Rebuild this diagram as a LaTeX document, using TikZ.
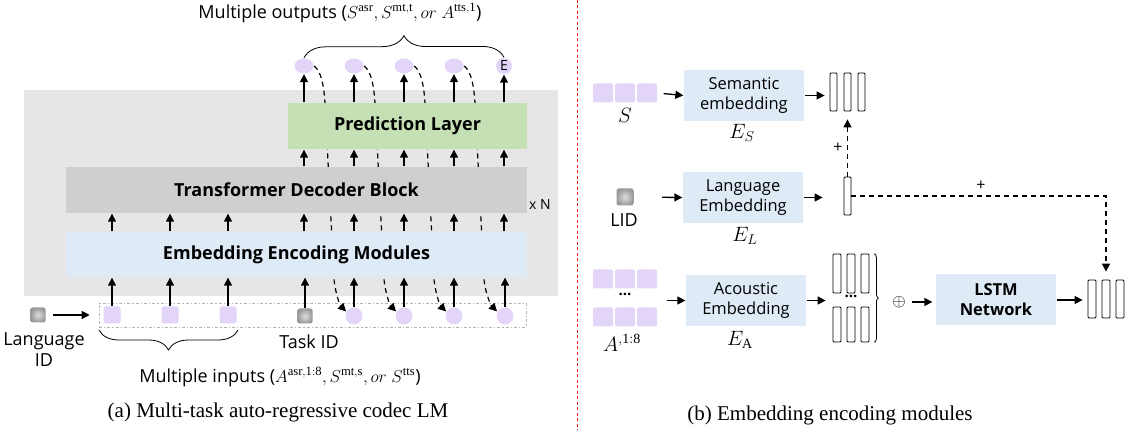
\documentclass[tikz,border=0pt]{standalone}
\usepackage{fontspec}
\setmainfont{Liberation Serif}
\newfontfamily\uifont{Open Sans}
\usetikzlibrary{arrows.meta,decorations.pathreplacing,shapes.geometric}
\tikzstyle{every path}=[line width=1.3pt]
\definecolor{bggray}{RGB}{230,230,230}
\definecolor{predgreen}{RGB}{197,224,180}
\definecolor{decgray}{RGB}{208,206,206}
\definecolor{embblue}{RGB}{222,235,247}
\definecolor{tokpurple}{RGB}{226,213,248}
\definecolor{divred}{RGB}{235,20,20}
\tikzstyle{block}=[inner sep=0pt, align=center, font=\uifont\bfseries\fontsize{18}{21}\selectfont]
\tikzstyle{module}=[fill=embblue, inner sep=0pt, align=center, minimum width=120pt, minimum height=51pt, font=\uifont\fontsize{16.5}{20}\selectfont]
\tikzstyle{token}=[fill=tokpurple, rounded corners=2pt, minimum width=20pt, minimum height=19pt, inner sep=0pt]
\tikzstyle{tokdot}=[fill=tokpurple, circle, minimum size=17pt, inner sep=0pt]
\tikzstyle{idbox}=[rounded corners=2pt, minimum size=15pt, inner sep=0pt, inner color=gray!25, outer color=gray!80]
\tikzstyle{vec}=[draw, line width=0.8pt, rounded corners=1pt, minimum width=7pt, minimum height=38pt, inner sep=0pt]
\tikzstyle{arr}=[-{Triangle[length=8pt,width=8pt]}]
\tikzstyle{fb}=[arr, line width=1.2pt, dash pattern=on 5pt off 4pt]
\tikzstyle{lbl}=[font=\uifont\fontsize{18}{21}\selectfont]
\tikzstyle{mathlbl}=[font=\fontsize{20}{22}\selectfont]
\tikzstyle{brc}=[decorate, line width=0.8pt]
\tikzstyle{caption}=[font=\fontsize{21}{24}\selectfont]

\begin{document}
\begin{tikzpicture}[x=1pt, y=-1pt]
    \useasboundingbox (0,0) rectangle (1129,435);

    % (a) multi-task codec LM
    \fill[bggray] (24,90) rectangle (558,296);

    \foreach \n/\x in {1/304,2/354,3/404,4/454}
        \node[tokdot, ellipse, minimum width=19pt, minimum height=15pt] (o\n) at (\x,66) {};
    \node[tokdot, minimum size=16pt, font=\uifont\fontsize{14}{14}\selectfont] (o5) at (504,66) {E};

    \node[draw=gray!60, dash dot, line width=0.6pt, minimum width=427pt, minimum height=24pt, inner sep=0pt] (inrow) at (312.5,315) {};
    \foreach \n/\x in {1/112,2/170,3/228}
        \node[token, minimum width=17pt, minimum height=17pt] (s\n) at (\x,315) {};
    \node[idbox] (task) at (305,316) {};
    \foreach \n/\x in {1/354,2/404,3/454,4/505}
        \node[tokdot] (i\n) at (\x,316) {};
    \node[idbox] (lang) at (38,315) {};
    \draw[arr, shorten <=7pt, shorten >=9pt] (lang) -- (inrow.west);

    \foreach \n in {1,...,4}
        \draw[fb] (o\n.east) .. controls +(7,5) and +(-1,-20) .. ++(11,40)
            -- ++(9,175) .. controls +(2,15) and +(-6,-6) .. (i\n.150);

    \node[block, fill=predgreen, minimum width=239pt, minimum height=46pt] (pred) at (407.5,126) {Prediction Layer};
    \node[block, fill=decgray, minimum width=461pt, minimum height=46pt] (dec) at (296.5,190) {Transformer Decoder Block};
    \node[block, fill=embblue, minimum width=461pt, minimum height=45pt] (emb) at (296.5,254.5) {Embedding Encoding Modules};

    \foreach \n in {1,...,5} {
        \draw[arr] (o\n |- pred.north) -- (o\n.south);
        \draw[arr] (o\n |- dec.north) -- (o\n |- pred.south);
    }
    \foreach \c in {s1,s2,s3,o1,o2,o3,o4,o5}
        \draw[arr] (\c |- emb.north) -- (\c |- dec.south);
    \foreach \c in {s1,s2,s3,task,i1,i2,i3,i4}
        \draw[arr] (\c.north) -- (\c |- emb.south);

    \draw[brc, decoration={brace, amplitude=22pt}] (o1.north) -- (o5.north);
    \node[lbl] (outlbl) at (340,13) {Multiple outputs ($S^{\mathrm{asr}}, S^{\mathrm{mt,t}}, or\ A^{\mathrm{tts,1}}$)};
    \coordinate (bl) at (99,330);
    \coordinate (br) at (238,330);
    \draw[brc, decoration={brace, mirror, amplitude=20pt}] (bl) -- (br);
    \node[lbl] (inlbl) at (280,377) {Multiple inputs ($A^{\mathrm{asr,1:8}}, S^{\mathrm{mt,s}}, or\ S^{\mathrm{tts}}$)};

    \node[lbl, align=center] (langlbl) at (44,350) {Language\\ID};
    \node[lbl] (tasklbl) at (309,342) {Task ID};
    \node[font=\uifont\fontsize{14}{14}\selectfont] (nlbl) at (540,205) {x N};
    \node[caption] (capa) at (278,412) {(a) Multi-task auto-regressive codec LM};

    \draw[divred, line width=1pt, dash pattern=on 3pt off 2.5pt] (577,0) -- (577,430);

    % (b) embedding encoding modules
    \foreach \n/\x in {1/603,2/625,3/647}
        \node[token] (st\n) at (\x,93) {};
    \node[mathlbl] (slbl) at (625,115) {$S$};
    \node[module] (sem) at (744,95.5) {Semantic\\embedding};
    \node[mathlbl] (eslbl) at (742,133) {$E_S$};
    \foreach \n/\x in {1/833.5,2/847.5,3/861.5}
        \node[vec] (sv\n) at (\x,92) {};
    \draw[arr, shorten <=6pt] (st3.east) -- (sem.west);
    \draw[arr, shorten >=5pt] (sem.east) -- (sem.east -| sv1.west);

    \node[idbox, minimum size=17pt] (lid) at (625,197) {};
    \node[lbl] (lidlbl) at (624,220) {LID};
    \node[module] (lemb) at (743,197.5) {Language\\Embedding};
    \node[mathlbl] (ellbl) at (745,236) {$E_L$};
    \node[vec] (lv) at (847.5,196) {};
    \draw[arr, shorten <=28pt] (lid.east) -- (lemb.west);
    \draw[arr, shorten >=21pt] (lemb.east) -- (lemb.east -| lv.west);

    \foreach \n/\x in {1/603,2/625,3/647} {
        \node[token] (at\n) at (\x,279) {};
        \node[token] (ab\n) at (\x,317) {};
    }
    \node[font=\uifont\bfseries\fontsize{15}{15}\selectfont] (adots) at (625,294) {...};
    \node[mathlbl] (albl) at (622,343) {$A^{,\mathrm{1:8}}$};
    \node[module] (aemb) at (746,300.5) {Acoustic\\Embedding};
    \node[mathlbl] (ealbl) at (740,340) {$E_{\mathrm{A}}$};
    \draw[arr, shorten <=9pt] (aemb.west -| at3.east) -- (aemb.west);

    \foreach \n/\x in {1/837,2/851,3/865} {
        \node[vec, minimum width=8pt, minimum height=39pt] (av\n) at (\x,273.5) {};
        \node[vec, minimum width=8pt, minimum height=35pt] (bv\n) at (\x,324.5) {};
    }
    \node[font=\uifont\bfseries\fontsize{15}{15}\selectfont] (vdots) at (851,296) {...};
    \draw[arr, shorten >=7pt] (aemb.east) -- (aemb.east -| av1.west);
    \draw[brc, decoration={brace, amplitude=4pt}] ([xshift=5pt]av3.north east) -- ([xshift=5pt]bv3.south east);
    \node[font=\fontsize{18}{18}\selectfont] (plus) at (899,302) {$\oplus$};
    \node[module, font=\uifont\bfseries\fontsize{16.5}{20}\selectfont] (lstm) at (996,300) {LSTM\\Network};
    \draw[arr, shorten <=2pt, shorten >=3pt] (plus.east) -- (plus.east -| lstm.west);
    \foreach \n/\x in {1/1092,2/1106,3/1120}
        \node[vec, minimum width=8pt] (ov\n) at (\x,299) {};
    \draw[arr, shorten >=5pt] (lstm.east) -- (lstm.east -| ov1.west);

    \draw[fb, shorten >=8pt] (lv.north) -- (sv2.south);
    \node[font=\uifont\fontsize{16}{16}\selectfont] (plusa) at (838,148) {+};
    \draw[fb, shorten >=8pt] (lv.east) -- (lv.east -| ov2.north) -- (ov2.north);
    \node[font=\uifont\fontsize{16}{16}\selectfont] (plusb) at (981,186) {+};
    \node[caption] (capb) at (830,415) {(b) Embedding encoding modules};
\end{tikzpicture}
\end{document}
